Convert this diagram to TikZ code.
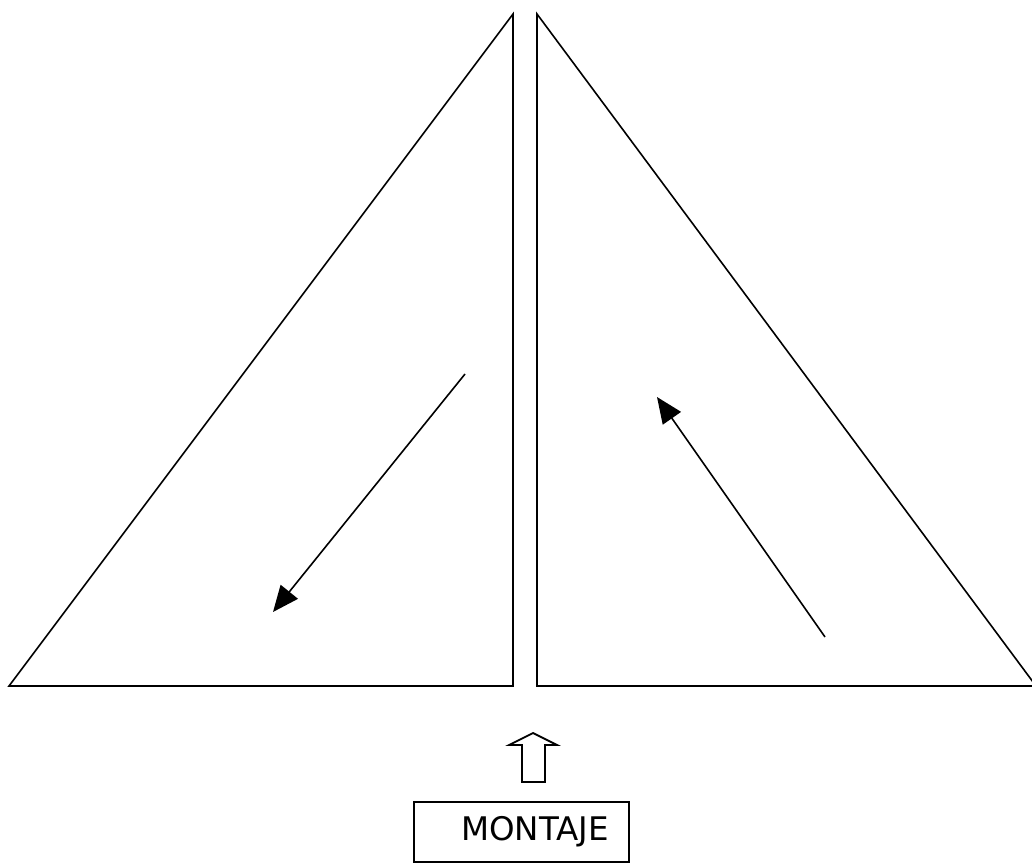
\documentclass[tikz,border=0pt]{standalone}
\usepackage{fontspec}
\setmainfont{DejaVu Sans}
\usetikzlibrary{arrows.meta}
\tikzset{
  edge/.style={line width=1.6pt, line join=miter},
  flow/.style={line width=1.6pt, -{Triangle[length=26pt,width=22pt]}},
  labelbox/.style={draw, line width=1.8pt, minimum width=215pt, minimum height=60pt, inner sep=0pt, font=\fontsize{32.5}{38}\selectfont}
}
\begin{document}
\begin{tikzpicture}[x=1pt,y=-1pt]
\useasboundingbox (0,0) rectangle (1032,864);
% left triangle
\draw[edge] (513,14) -- (9,686) -- (513,686) -- cycle;
% right triangle
\draw[edge] (537,14) -- (1036,686) -- (537,686) -- cycle;
% arrows
\coordinate (la) at (465,374);
\coordinate (lb) at (273,612);
\coordinate (ra) at (825,637);
\coordinate (rb) at (657,397);
\draw[flow] (la) -- (lb);
\draw[flow] (ra) -- (rb);
% hollow up arrow
\draw[line width=1.8pt, line join=miter] (522,782) -- (522,745) -- (509,745) -- (533,733) -- (557,745) -- (545,745) -- (545,782) -- cycle;
% box
\node[labelbox] (m) at (521.5,832) {\hspace*{27pt}MONTAJE};
\end{tikzpicture}
\end{document}
